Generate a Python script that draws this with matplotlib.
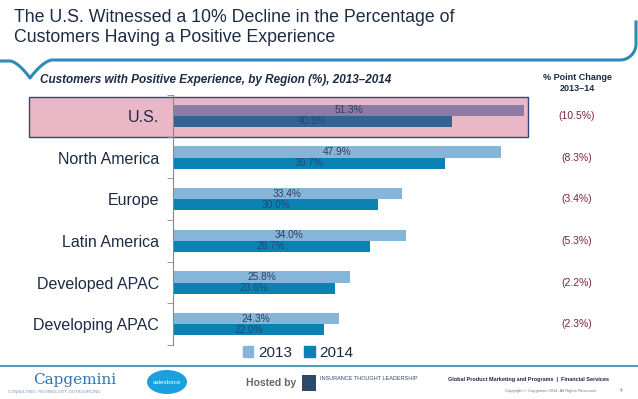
import numpy as np
import matplotlib
matplotlib.use("Agg")
import matplotlib.pyplot as plt
from matplotlib.patches import Rectangle, Ellipse, Patch
from matplotlib.lines import Line2D
from matplotlib.transforms import blended_transform_factory

plt.rcParams['font.family'] = ['Liberation Sans', 'DejaVu Sans']

regions = ["U.S.", "North America", "Europe", "Latin America", "Developed APAC", "Developing APAC"]
vals_2013 = [51.3, 47.9, 33.4, 34.0, 25.8, 24.3]
vals_2014 = [40.8, 39.7, 30.0, 28.7, 23.6, 22.0]
changes = ["(10.5%)", "(8.3%)", "(3.4%)", "(5.3%)", "(2.2%)", "(2.3%)"]
years = ["2013", "2014"]

c13 = "#86b5da"
c14 = "#0a82b4"
c13_us = "#8d7aa6"
c14_us = "#336491"
navy = "#1d2b45"
teal = "#2f8bb3"

W, H = 638, 399
fig = plt.figure(figsize=(6.38, 3.99), dpi=100)


def fx(px):
    return px / W


def fy(py):
    return 1 - py / H


# title
fig.text(fx(14), fy(9), "The U.S. Witnessed a 10% Decline in the Percentage of\nCustomers Having a Positive Experience",
         ha="left", va="top", fontsize=12.8, color=navy, linespacing=1.25)

# decorative brace line under title
t = np.linspace(0, 1, 20)
left_x = np.concatenate([[0, 10], 10 + 20 * t, 30 + 22 * t])
left_y = np.concatenate([[61, 61], 61 + 17 * t ** 1.6, 78 - 18 * (1 - (1 - t) ** 1.6)])
ang = np.linspace(np.pi / 2, 0, 15)
right_x = np.concatenate([[60, 620], 620 + 16 * np.cos(ang)])
right_y = np.concatenate([[60, 60], 44 + 16 * np.sin(ang)])
bx = np.concatenate([left_x, right_x, [636]])
by = np.concatenate([left_y, right_y, [22]])
fig.add_artist(Line2D(fx(bx), fy(by), color=teal, lw=2.2,
                      transform=fig.transFigure, solid_joinstyle="round"))

fig.text(fx(40), fy(80), "Customers with Positive Experience, by Region (%), 2013\u20132014",
         ha="left", va="center", fontsize=8.5, fontweight="bold", fontstyle="italic", color=navy)
fig.text(fx(577), fy(83), "% Point Change\n2013\u201314", ha="center", va="center",
         fontsize=6.5, fontweight="bold", color=navy, linespacing=1.4)

# highlight box for U.S.
fig.add_artist(Rectangle((fx(29), fy(137)), fx(527.5) - fx(29), fy(97) - fy(137),
                         facecolor="#e9b7c5", edgecolor="#2d4a78", lw=1.0,
                         transform=fig.transFigure, zorder=-1))

ax = fig.add_axes([fx(173), fy(345), fx(540) - fx(173), fy(95) - fy(345)])
ax.set_facecolor("none")

y = np.arange(len(regions))
bh = 0.27
cols13 = [c13_us] + [c13] * (len(regions) - 1)
cols14 = [c14_us] + [c14] * (len(regions) - 1)
ax.barh(y - bh / 2, vals_2013, height=bh, color=cols13)
ax.barh(y + bh / 2, vals_2014, height=bh, color=cols14)

trans = blended_transform_factory(fig.transFigure, ax.transData)
for i in range(len(regions)):
    ax.text(vals_2013[i] / 2, y[i] - bh / 2, f"{vals_2013[i]:.1f}%", ha="center", va="center",
            fontsize=7.3, color="#2b3f63")
    ax.text(vals_2014[i] / 2, y[i] + bh / 2, f"{vals_2014[i]:.1f}%", ha="center", va="center",
            fontsize=7.3, color="#1f4a78")
    ax.text(fx(577), y[i], changes[i], transform=trans, clip_on=False,
            ha="center", va="center", fontsize=7.5, color="#7a2442")

ax.set_xlim(0, 53.6)
ax.set_ylim(len(regions) - 0.5, -0.5)
ax.set_yticks(y)
ax.set_yticklabels(regions, fontsize=11.5, color=navy)
ax.set_yticks(np.arange(-0.5, len(regions), 1.0), minor=True)
ax.tick_params(axis="y", which="major", length=0, pad=10)
ax.tick_params(axis="y", which="minor", length=4, color="#888888")
ax.set_xticks([])
for s in ["top", "right", "bottom"]:
    ax.spines[s].set_visible(False)
ax.spines["left"].set_color("#888888")

handles = [Patch(color=c13, label=years[0]), Patch(color=c14, label=years[1])]
fig.legend(handles=handles, loc="center", bbox_to_anchor=(fx(298), fy(353)), ncol=2, frameon=False,
           fontsize=11, handlelength=0.7, handleheight=0.7, handletextpad=0.3,
           columnspacing=0.8, labelcolor=navy)

# footer
fig.add_artist(Line2D([0, 1], [fy(366), fy(366)], color=teal, lw=1.2, transform=fig.transFigure))
fig.text(fx(33), fy(380), "Capgemini", fontsize=11, family="DejaVu Serif", color="#2f74b5",
         ha="left", va="center")
fig.text(fx(8), fy(392), "CONSULTING. TECHNOLOGY. OUTSOURCING", fontsize=3, color="#6a8fb5",
         ha="left", va="center")
fig.add_artist(Ellipse((fx(167), fy(382)), fx(40), fy(0) - fy(24), facecolor="#1aa0dc",
                       transform=fig.transFigure))
fig.text(fx(167), fy(382), "salesforce", fontsize=4.5, color="white", ha="center", va="center")
fig.text(fx(246), fy(383), "Hosted by", fontsize=7.5, fontweight="bold", color="#666666",
         ha="left", va="center")
fig.add_artist(Rectangle((fx(302), fy(391)), fx(14), fy(0) - fy(16), facecolor="#2d4a6b",
                         transform=fig.transFigure))
fig.text(fx(320), fy(378), "INSURANCE THOUGHT LEADERSHIP", fontsize=4, color="#2d4a6b",
         ha="left", va="center")
fig.text(fx(448), fy(380), "Global Product Marketing and Programs  |  Financial Services",
         fontsize=4, fontweight="bold", color=navy, ha="left", va="center")
fig.text(fx(505), fy(391), "Copyright \u00a9 Capgemini 2014. All Rights Reserved", fontsize=3,
         color="#777777", ha="left", va="center")
fig.text(fx(620), fy(391), "4", fontsize=3.5, color="#777777", ha="left", va="center")

fig.savefig("out.png", dpi=100)
